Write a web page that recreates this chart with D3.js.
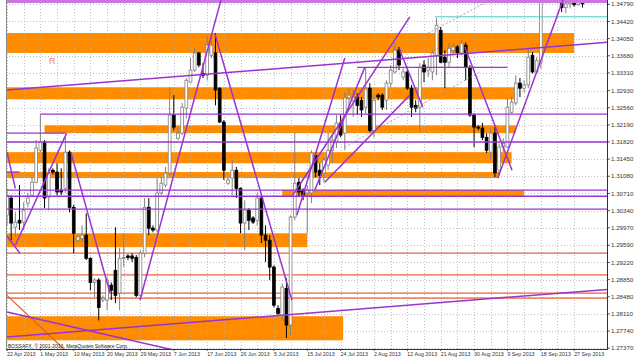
<!DOCTYPE html>
<html>
<head>
<meta charset="utf-8">
<script src="https://cdn.jsdelivr.net/npm/d3@7"></script>
<style>
body { margin: 0; background: #fff; }
svg { display: block; }
</style>
</head>
<body>
<svg id="chart" width="640" height="360"></svg>
<script>
// daily bars, EURUSD-like, 22 Apr 2013 -> 1 Oct 2013 (broker shows Sunday bars)
const openP = [1.3024,1.3061,1.2998,1.3013,1.3009,1.3050,1.3067,1.3095,1.3164,1.3182,
  1.3063,1.3121,1.3117,1.3078,1.3082,1.3160,1.3041,1.2970,1.2974,1.2981,
  1.2931,1.2879,1.2884,1.2841,1.2841,1.2873,1.2905,1.2856,1.2931,1.2936,
  1.2936,1.2933,1.2851,1.2942,1.3041,1.2996,1.2992,1.3072,1.3089,1.3115,
  1.3240,1.3190,1.3201,1.3255,1.3311,1.3337,1.3374,1.3330,1.3326,1.3369,
  1.3374,1.3298,1.3225,1.3093,1.3104,1.3121,1.3082,1.3007,1.3035,1.3018,
  1.3013,1.3061,1.2981,1.2970,1.2912,1.2823,1.2808,1.2866,1.2787,1.3020,
  1.3095,1.3078,1.3072,1.3072,1.3153,1.3121,1.3115,1.3132,1.3164,1.3182,
  1.3223,1.3201,1.3277,1.3272,1.3279,1.3272,1.3257,1.3298,1.3207,1.3283,
  1.3283,1.3272,1.3309,1.3333,1.3380,1.3322,1.3333,1.3298,1.3261,1.3257,
  1.3348,1.3337,1.3333,1.3369,1.3423,1.3365,1.3354,1.3380,1.3387,1.3374,
  1.3391,1.3343,1.3240,1.3214,1.3212,1.3192,1.3160,1.3201,1.3121,1.3171,
  1.3171,1.3246,1.3266,1.3309,1.3298,1.3305,1.3369,1.3333,1.3354,1.3520,
  1.3525,1.3520,1.3525,1.3495,1.3472,1.3480,1.3485,1.3478,1.3486];
const highP = [1.3082,1.3067,1.3030,1.3089,1.3052,1.3072,1.3106,1.3186,1.3242,1.3186,
  1.3125,1.3125,1.3136,1.3125,1.3192,1.3164,1.3046,1.2981,1.3002,1.3028,
  1.2933,1.2888,1.2888,1.2851,1.2890,1.2879,1.2998,1.2953,1.2985,1.2940,
  1.2942,1.2938,1.2948,1.3061,1.3061,1.3002,1.3104,1.3106,1.3128,1.3300,
  1.3283,1.3214,1.3266,1.3320,1.3363,1.3387,1.3376,1.3352,1.3412,1.3417,
  1.3417,1.3300,1.3229,1.3106,1.3143,1.3128,1.3084,1.3056,1.3039,1.3022,
  1.3072,1.3063,1.3002,1.2981,1.2916,1.2830,1.2877,1.2888,1.3024,1.3203,
  1.3104,1.3082,1.3089,1.3164,1.3160,1.3136,1.3149,1.3201,1.3197,1.3240,
  1.3240,1.3289,1.3298,1.3294,1.3287,1.3279,1.3343,1.3309,1.3283,1.3287,
  1.3287,1.3315,1.3348,1.3397,1.3387,1.3341,1.3343,1.3305,1.3272,1.3352,
  1.3358,1.3363,1.3380,1.3449,1.3430,1.3380,1.3395,1.3395,1.3391,1.3402,
  1.3397,1.3348,1.3244,1.3218,1.3223,1.3201,1.3214,1.3214,1.3179,1.3190,
  1.3277,1.3279,1.3326,1.3320,1.3315,1.3384,1.3376,1.3365,1.3545,1.3545,
  1.3545,1.3530,1.3530,1.3500,1.3495,1.3500,1.3500,1.3505,1.3500];
const lowP = [1.3002,1.2970,1.2977,1.2992,1.2992,1.3041,1.3063,1.3093,1.3160,1.3039,
  1.3035,1.3112,1.3067,1.3067,1.3072,1.3030,1.2942,1.2966,1.2966,1.2927,
  1.2862,1.2847,1.2797,1.2836,1.2819,1.2841,1.2834,1.2819,1.2912,1.2927,
  1.2923,1.2847,1.2841,1.2933,1.2981,1.2987,1.2987,1.3067,1.3084,1.3110,
  1.3207,1.3186,1.3197,1.3233,1.3309,1.3333,1.3343,1.3320,1.3315,1.3363,
  1.3261,1.3223,1.3100,1.3089,1.3067,1.3061,1.2985,1.2948,1.2992,1.3005,
  1.3002,1.2964,1.2923,1.2884,1.2825,1.2806,1.2797,1.2759,1.2765,1.3013,
  1.3063,1.3056,1.2985,1.3050,1.3106,1.3089,1.3095,1.3121,1.3136,1.3169,
  1.3192,1.3164,1.3251,1.3236,1.3240,1.3236,1.3244,1.3203,1.3192,1.3272,
  1.3251,1.3251,1.3300,1.3330,1.3337,1.3315,1.3294,1.3236,1.3246,1.3203,
  1.3311,1.3322,1.3315,1.3326,1.3352,1.3298,1.3343,1.3369,1.3363,1.3369,
  1.3315,1.3236,1.3171,1.3207,1.3186,1.3158,1.3143,1.3106,1.3110,1.3160,
  1.3169,1.3244,1.3261,1.3279,1.3289,1.3298,1.3330,1.3330,1.3340,1.3500,
  1.3505,1.3510,1.3490,1.3462,1.3460,1.3470,1.3474,1.3476,1.3472];
const closeP = [1.3067,1.3007,1.3009,1.3007,1.3035,1.3061,1.3095,1.3169,1.3182,1.3061,
  1.3115,1.3117,1.3074,1.3074,1.3160,1.3041,1.2985,1.2977,1.2981,1.2931,
  1.2879,1.2884,1.2825,1.2845,1.2884,1.2862,1.2851,1.2931,1.2933,1.2933,
  1.2931,1.2851,1.2942,1.3041,1.2996,1.2992,1.3072,1.3093,1.3115,1.3240,
  1.3214,1.3201,1.3257,1.3315,1.3337,1.3374,1.3348,1.3326,1.3391,1.3391,
  1.3294,1.3225,1.3121,1.3100,1.3121,1.3082,1.3007,1.3035,1.3013,1.3009,
  1.3061,1.2981,1.2970,1.2912,1.2830,1.2812,1.2869,1.2787,1.3020,1.3093,
  1.3074,1.3067,1.3078,1.3158,1.3117,1.3110,1.3143,1.3164,1.3186,1.3223,
  1.3197,1.3277,1.3283,1.3279,1.3261,1.3251,1.3296,1.3207,1.3272,1.3279,
  1.3257,1.3309,1.3337,1.3380,1.3348,1.3333,1.3298,1.3257,1.3255,1.3343,
  1.3333,1.3343,1.3374,1.3434,1.3354,1.3354,1.3384,1.3387,1.3374,1.3395,
  1.3343,1.3240,1.3214,1.3212,1.3192,1.3164,1.3201,1.3115,1.3171,1.3179,
  1.3257,1.3268,1.3309,1.3298,1.3305,1.3365,1.3333,1.3358,1.3520,1.3525,
  1.3520,1.3525,1.3495,1.3472,1.3480,1.3485,1.3478,1.3486,1.3480];

const dateLabels = ["22 Apr 2013","1 May 2013","10 May 2013","20 May 2013","29 May 2013",
  "7 Jun 2013","17 Jun 2013","26 Jun 2013","5 Jul 2013","15 Jul 2013","24 Jul 2013",
  "2 Aug 2013","12 Aug 2013","21 Aug 2013","30 Aug 2013","9 Sep 2013","18 Sep 2013","27 Sep 2013"];
const priceLabels = [1.34790,1.34420,1.34050,1.33680,1.33310,1.32930,1.32560,1.32190,1.31820,
  1.31450,1.31080,1.30710,1.30340,1.29970,1.29590,1.29220,1.28850,1.28480,1.28110,1.27740,1.27370];

// rectangles: [top price, bottom price, from bar, to bar]
const zones = [
  [1.3417,1.3374,-3,136],[1.3300,1.3274,-3,122],[1.3218,1.3201,9,122],
  [1.3160,1.3136,-3,121],[1.3117,1.3104,-3,118],[1.3078,1.3065,66,124],
  [1.2985,1.2955,-3,72],[1.2806,1.2754,-3,80.6]
];
// horizontal lines: [price, from bar, to bar]
const purpleLevels = [[1.3242,8,150],[1.3201,-3,14],[1.3182,-3,150],[1.3117,-3,3],
  [1.3078,-3,150],[1.3065,-3,150],[1.3037,-3,150],[1.3343,84,120]];
const topLevel = [1.3485];
const redLevels = [1.2942,1.2895,1.2856,1.2845];
const cyanLevels = [[1.3452,102.6,150]];
// trend lines: [bar1, price1, bar2, price2]
const trendLines = [
  [0,1.3294,144,1.3397],[0,1.2761,144,1.2864],[0,1.2815,40,1.2733],
  [2,1.2959,14.3,1.3201],[15.3,1.3160,24.7,1.2856],[31.9,1.2841,51.3,1.3488],
  [49.8,1.3417,68.3,1.2841],[69.5,1.3024,81,1.3363],[68.5,1.3067,96.6,1.3452],
  [73.8,1.3078,85.8,1.3343],[76.2,1.3095,96.6,1.3283],[94.2,1.3380,99.7,1.3257],
  [109.8,1.3387,121.1,1.3121],[117.7,1.3104,133.3,1.3488],
  [0,1.3160,2,1.3082],[0,1.2979,3.1,1.2942]
];
const orangeTrend = [[0,1.2851,13.9,1.2733]];
const dottedTrend = [[81,1.3171,113.4,1.3333],[94.2,1.3384,115.8,1.3488]];

const svg = d3.select("#chart");
const plotL = 6, plotR = 607, plotT = 0, plotB = 349;

const x = d3.scaleLinear().domain([0, 138]).range([7, 582.5]);
const y = d3.scaleLinear().domain([1.2737, 1.3479]).range([348.2, 4.3]);

svg.append("rect").attr("width", 640).attr("height", 360).attr("fill", "#fff");
svg.append("clipPath").attr("id", "plotClip")
  .append("rect").attr("x", plotL).attr("y", plotT)
  .attr("width", plotR - plotL).attr("height", plotB - plotT);

const plot = svg.append("g").attr("clip-path", "url(#plotClip)");

// zones (behind everything)
plot.append("g").selectAll("rect").data(zones).enter().append("rect")
  .attr("x", d => x(d[2]))
  .attr("y", d => y(d[0]))
  .attr("width", d => x(d[3]) - x(d[2]))
  .attr("height", d => y(d[1]) - y(d[0]))
  .attr("fill", "#ff8c00");

// grid
const vTicks = d3.range(0, 140, 4);
plot.append("g").selectAll("line").data(vTicks).enter().append("line")
  .attr("x1", d => Math.round(x(d)) + 0.5).attr("x2", d => Math.round(x(d)) + 0.5)
  .attr("y1", plotT).attr("y2", plotB)
  .attr("stroke", "#a8b0b8").attr("stroke-width", 0.8).attr("stroke-dasharray", "1,2");
plot.append("g").selectAll("line").data(priceLabels).enter().append("line")
  .attr("x1", plotL).attr("x2", plotR)
  .attr("y1", d => Math.round(y(d)) + 0.5).attr("y2", d => Math.round(y(d)) + 0.5)
  .attr("stroke", "#a8b0b8").attr("stroke-width", 0.8).attr("stroke-dasharray", "1,2");

// level lines
plot.append("g").selectAll("line").data(redLevels).enter().append("line")
  .attr("x1", plotL).attr("x2", plotR)
  .attr("y1", d => y(d)).attr("y2", d => y(d))
  .attr("stroke", "#e8643c").attr("stroke-width", 1.2);

// candles
const bars = d3.range(openP.length);
const candles = plot.append("g");
candles.selectAll("line").data(bars).enter().append("line")
  .attr("x1", i => x(i)).attr("x2", i => x(i))
  .attr("y1", i => y(highP[i])).attr("y2", i => y(lowP[i]))
  .attr("stroke", i => closeP[i] >= openP[i] ? "#808080" : "#000")
  .attr("stroke-width", 1);
candles.selectAll("rect").data(bars).enter().append("rect")
  .attr("x", i => x(i) - 1.4)
  .attr("y", i => y(Math.max(openP[i], closeP[i])))
  .attr("width", 2.8)
  .attr("height", i => Math.max(1, Math.abs(y(openP[i]) - y(closeP[i]))))
  .attr("fill", i => closeP[i] >= openP[i] ? "#fff" : "#000")
  .attr("stroke", i => closeP[i] >= openP[i] ? "#808080" : "#000")
  .attr("stroke-width", 0.8);

// drawn objects on top
plot.append("g").selectAll("line").data(purpleLevels).enter().append("line")
  .attr("x1", d => x(d[1])).attr("x2", d => x(d[2]))
  .attr("y1", d => y(d[0])).attr("y2", d => y(d[0]))
  .attr("stroke", "#9a34d0").attr("stroke-width", 1.4);
plot.append("g").selectAll("line").data(topLevel).enter().append("line")
  .attr("x1", plotL).attr("x2", plotR)
  .attr("y1", d => y(d)).attr("y2", d => y(d))
  .attr("stroke", "#c878dc").attr("stroke-width", 3);
plot.append("g").selectAll("line").data(cyanLevels).enter().append("line")
  .attr("x1", d => x(d[1])).attr("x2", d => x(d[2]))
  .attr("y1", d => y(d[0])).attr("y2", d => y(d[0]))
  .attr("stroke", "#48c8c8").attr("stroke-width", 1);
plot.append("g").selectAll("line").data(dottedTrend).enter().append("line")
  .attr("x1", d => x(d[0])).attr("y1", d => y(d[1]))
  .attr("x2", d => x(d[2])).attr("y2", d => y(d[3]))
  .attr("stroke", "#909090").attr("stroke-width", 0.8).attr("stroke-dasharray", "2,2");
plot.append("g").selectAll("line").data(orangeTrend).enter().append("line")
  .attr("x1", d => x(d[0])).attr("y1", d => y(d[1]))
  .attr("x2", d => x(d[2])).attr("y2", d => y(d[3]))
  .attr("stroke", "#e0602c").attr("stroke-width", 1.3);
plot.append("g").selectAll("line").data(trendLines).enter().append("line")
  .attr("x1", d => x(d[0])).attr("y1", d => y(d[1]))
  .attr("x2", d => x(d[2])).attr("y2", d => y(d[3]))
  .attr("stroke", "#9a34d0").attr("stroke-width", 1.5);

plot.append("text").attr("x", 49).attr("y", 64)
  .attr("font-family", "Liberation Sans, Arial, sans-serif").attr("font-size", 9)
  .attr("fill", "#f08070").text("R");
plot.append("text").attr("x", 8).attr("y", 348)
  .attr("font-family", "Liberation Sans, Arial, sans-serif").attr("font-size", 5)
  .attr("fill", "#222").text("BOSSAFX, © 2001-2013, MetaQuotes Software Corp.");

// frame
svg.append("line").attr("x1", plotL + 0.5).attr("x2", plotL + 0.5).attr("y1", 0).attr("y2", plotB)
  .attr("stroke", "#888").attr("stroke-width", 1);
svg.append("line").attr("x1", plotR + 0.5).attr("x2", plotR + 0.5).attr("y1", 0).attr("y2", plotB + 0.5)
  .attr("stroke", "#333").attr("stroke-width", 1);
svg.append("line").attr("x1", plotL).attr("x2", plotR + 0.5).attr("y1", plotB + 0.5).attr("y2", plotB + 0.5)
  .attr("stroke", "#333").attr("stroke-width", 1);

// price axis
const yAxis = svg.append("g");
yAxis.selectAll("line").data(priceLabels).enter().append("line")
  .attr("x1", plotR).attr("x2", plotR + 3)
  .attr("y1", d => y(d)).attr("y2", d => y(d))
  .attr("stroke", "#333").attr("stroke-width", 0.8);
yAxis.selectAll("text").data(priceLabels).enter().append("text")
  .attr("x", 611).attr("y", d => y(d)).attr("dy", "0.35em")
  .attr("font-family", "Liberation Sans, Arial, sans-serif").attr("font-size", 6.2)
  .attr("fill", "#333").text(d => d.toFixed(5));

// time axis
const tIdx = dateLabels.map((d, k) => k * 8);
const xAxis = svg.append("g");
xAxis.selectAll("line").data(tIdx).enter().append("line")
  .attr("x1", i => x(i)).attr("x2", i => x(i))
  .attr("y1", plotB).attr("y2", plotB + 2)
  .attr("stroke", "#333").attr("stroke-width", 0.8);
xAxis.selectAll("text").data(tIdx).enter().append("text")
  .attr("x", i => x(i)).attr("y", 356)
  .attr("font-family", "Liberation Sans, Arial, sans-serif").attr("font-size", 5.3)
  .attr("fill", "#333").text((i, k) => dateLabels[k]);
</script>
</body>
</html>
